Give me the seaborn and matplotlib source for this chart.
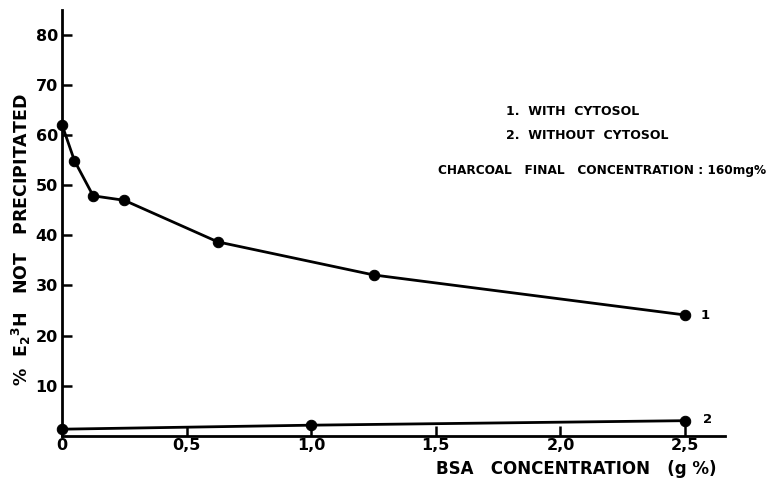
import matplotlib
matplotlib.use("Agg")
import matplotlib.pyplot as plt
import seaborn as sns
import pandas as pd

# Data
bsa_with = [0.0, 0.05, 0.125, 0.25, 0.625, 1.25, 2.5]
pct_with = [62.1, 54.9, 47.9, 47.0, 38.7, 32.1, 24.1]
bsa_without = [0.0, 1.0, 2.5]
pct_without = [1.3, 2.1, 3.0]
x_ticks = [0, 0.5, 1.0, 1.5, 2.0, 2.5]
x_tick_labels = ["0", "0,5", "1,0", "1,5", "2,0", "2,5"]
y_ticks = [10, 20, 30, 40, 50, 60, 70, 80]

sns.set_theme(style="ticks")
plt.rcParams['font.family'] = ['DejaVu Sans']
plt.rcParams['font.weight'] = 'bold'
plt.rcParams['mathtext.default'] = 'bf'
plt.rcParams['text.color'] = 'black'
plt.rcParams['axes.labelcolor'] = 'black'

df1 = pd.DataFrame({"bsa": bsa_with, "pct": pct_with})
df2 = pd.DataFrame({"bsa": bsa_without, "pct": pct_without})

fig = plt.figure(figsize=(7.72, 4.82), dpi=100)
L, R, T, B = 62, 725, 10, 435.7
ax = fig.add_axes([L / 772, (482 - B) / 482, (R - L) / 772, (B - T) / 482])

kw = dict(color="black", linewidth=2.0, marker="o", markersize=7.5,
          markeredgecolor="black", markerfacecolor="black", ax=ax)
sns.lineplot(data=df1, x="bsa", y="pct", **kw)
sns.lineplot(data=df2, x="bsa", y="pct", **kw)

ax.set_xlim(0, 2.66)
ax.set_ylim(0, 85)
for c in ax.lines:
    c.set_clip_on(False)

sns.despine(ax=ax)
for s in ["left", "bottom"]:
    ax.spines[s].set_linewidth(2.0)
    ax.spines[s].set_color("black")

ax.set_xticks(x_ticks)
ax.set_xticklabels(x_tick_labels)
ax.set_yticks(y_ticks)
ax.set_yticklabels([str(v) for v in y_ticks])
ax.tick_params(axis="both", direction="in", length=7, width=1.8,
               colors="black", labelsize=11.5)
ax.tick_params(axis="x", pad=2)
ax.tick_params(axis="y", pad=3)
for lab in ax.get_xticklabels() + ax.get_yticklabels():
    lab.set_fontweight("bold")

ax.set_xlabel("")
ax.set_ylabel("")
fig.text(21 / 772, 1 - 240 / 482, r"%  E$_2$$^3$H   NOT   PRECIPITATED",
         rotation=90, ha="center", va="center", fontsize=12.5,
         fontweight="bold", color="black")
fig.text(716 / 772, 1 - 469 / 482, "BSA   CONCENTRATION   (g %)",
         ha="right", va="center", fontsize=12, fontweight="bold", color="black")

ax.annotate("1", xy=(bsa_with[-1], pct_with[-1]), xytext=(11, 0),
            textcoords="offset points", ha="left", va="center",
            fontsize=9.5, fontweight="bold", color="black")
ax.annotate("2", xy=(bsa_without[-1], pct_without[-1]), xytext=(13, 1),
            textcoords="offset points", ha="left", va="center",
            fontsize=9.5, fontweight="bold", color="black")

ax.text(0.670, 0.761, "1.  WITH  CYTOSOL", transform=ax.transAxes,
        ha="left", va="center", fontsize=9, fontweight="bold", color="black")
ax.text(0.670, 0.706, "2.  WITHOUT  CYTOSOL", transform=ax.transAxes,
        ha="left", va="center", fontsize=9, fontweight="bold", color="black")
ax.text((766 - L) / (R - L), 0.624, "CHARCOAL   FINAL   CONCENTRATION : 160mg%",
        transform=ax.transAxes, ha="right", va="center", fontsize=8.7,
        fontweight="bold", color="black")

fig.savefig("out.png", dpi=100)
